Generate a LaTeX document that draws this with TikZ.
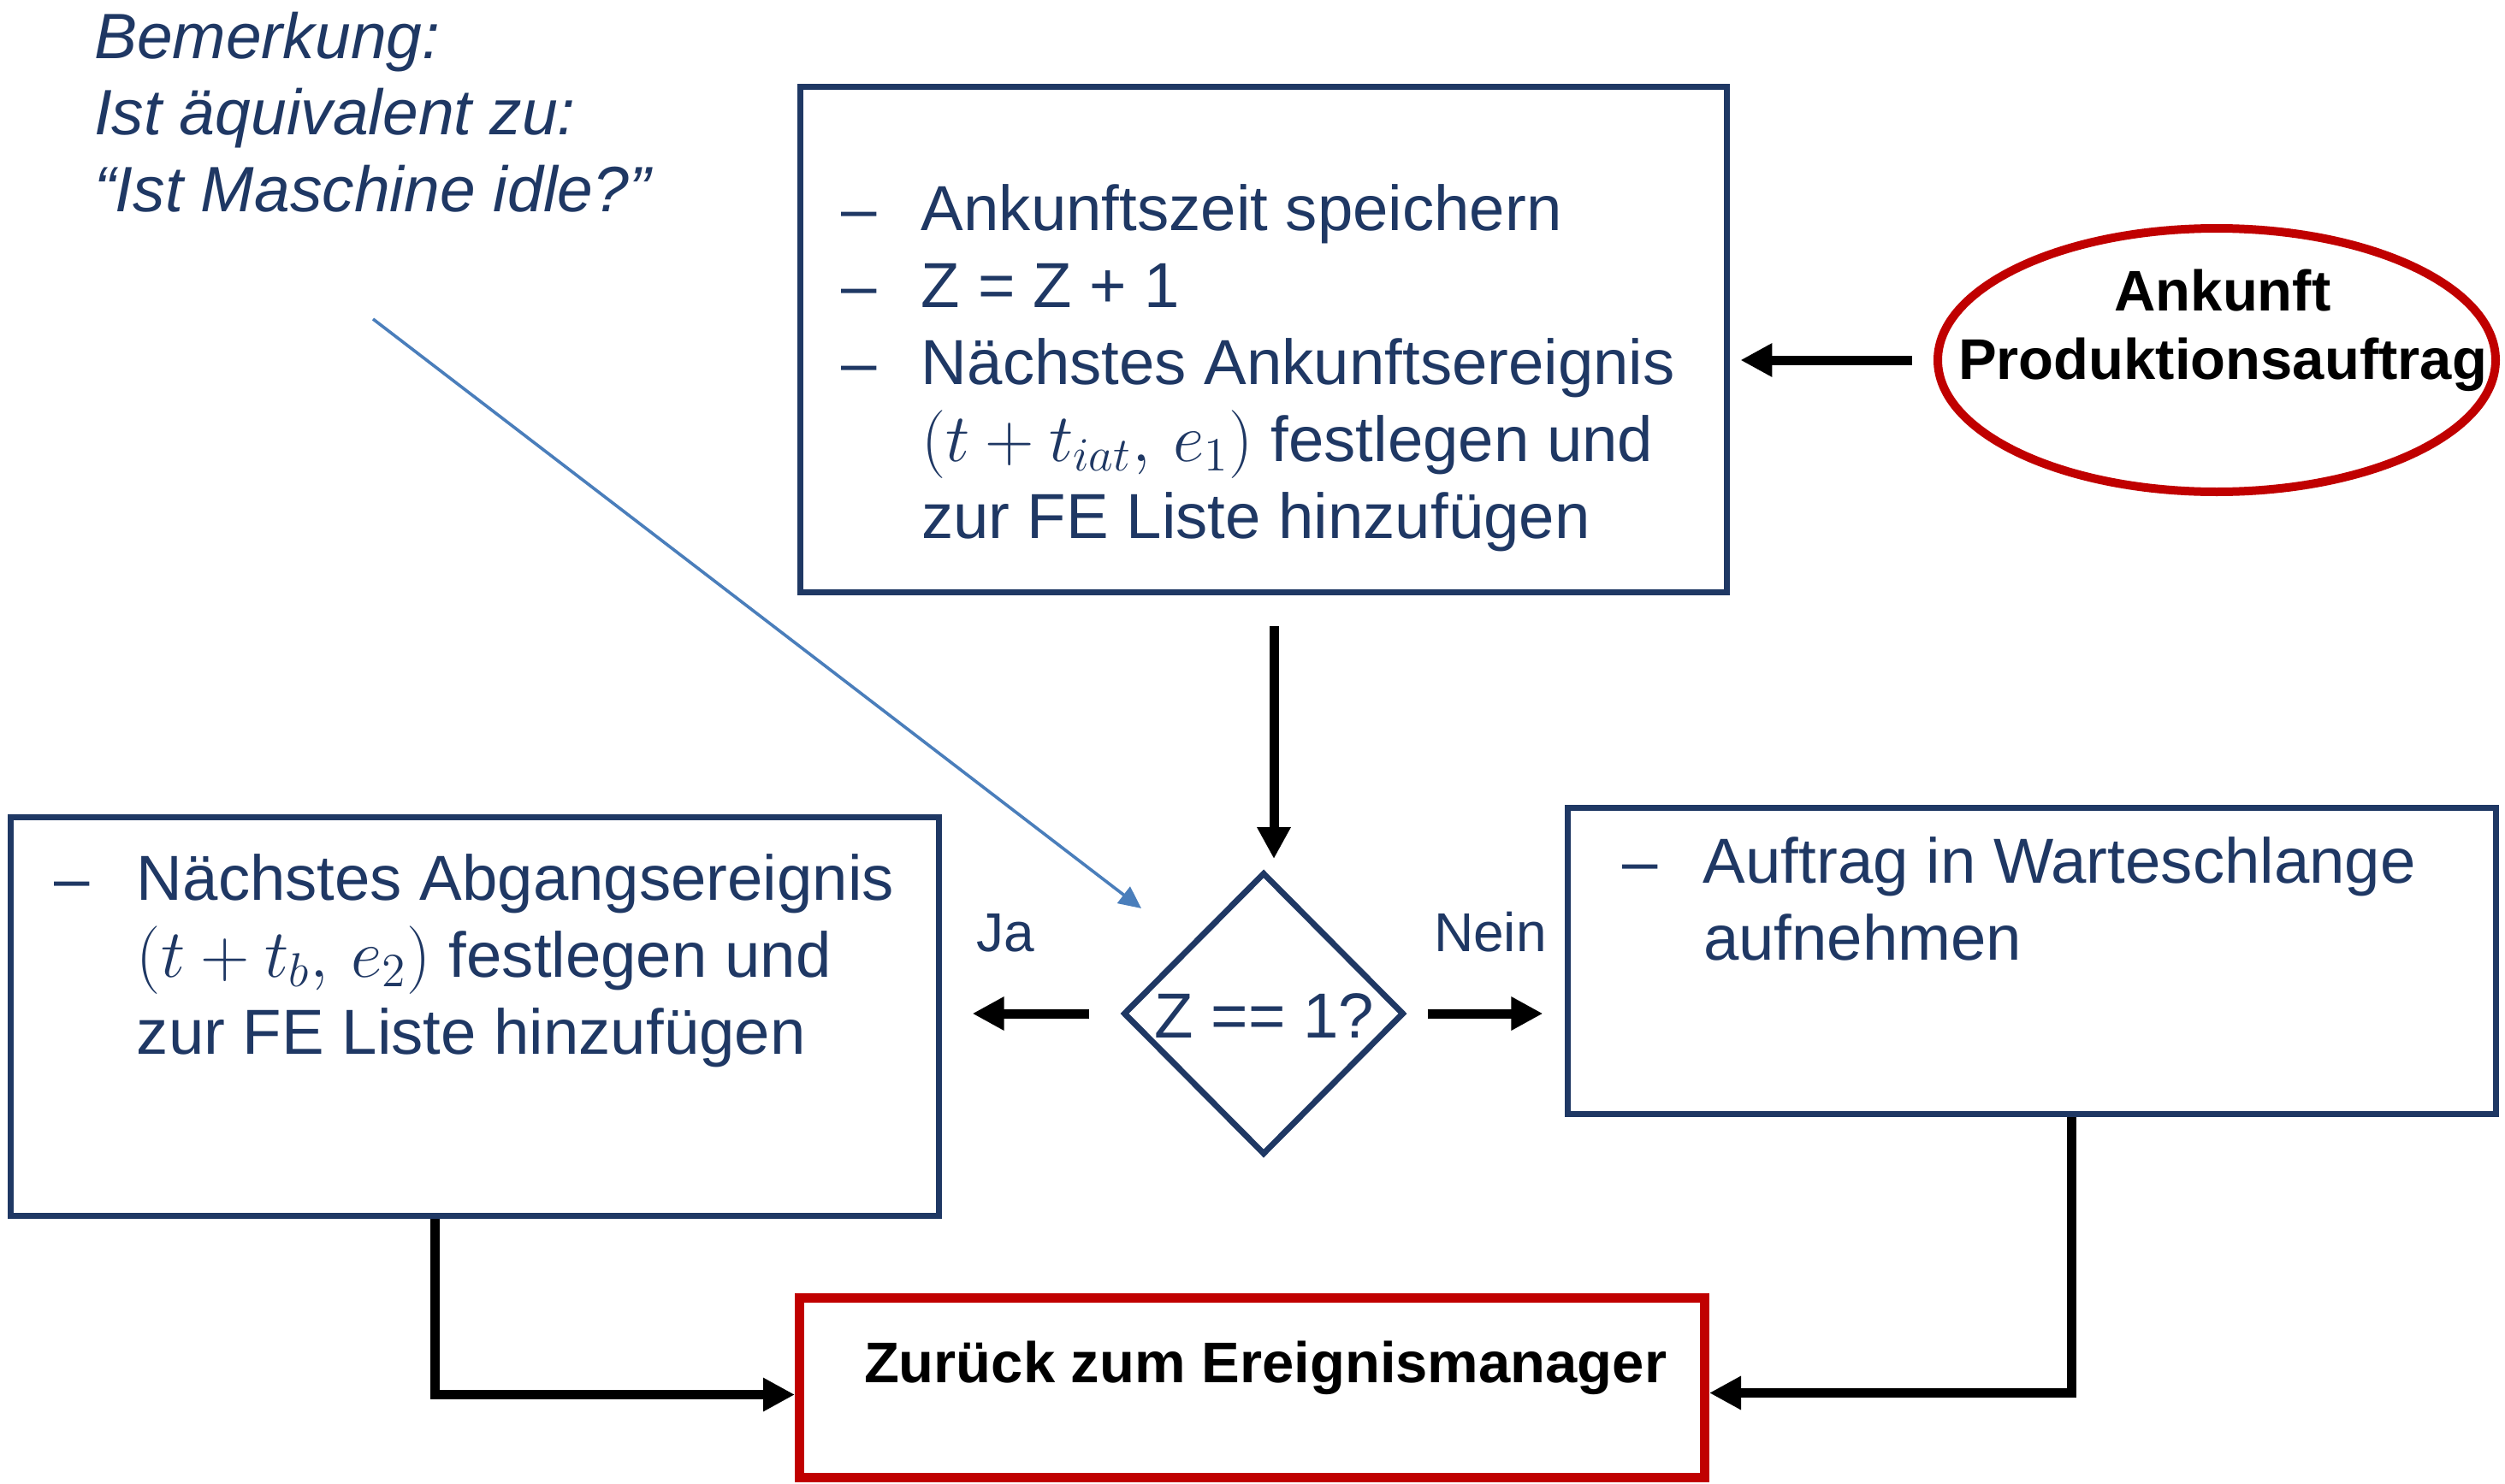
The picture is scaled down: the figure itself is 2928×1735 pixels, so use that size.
\RequirePackage{fix-cm}
\documentclass[tikz,border=0pt]{standalone}
\usepackage{fontspec}
\setmainfont{Liberation Sans}
\usetikzlibrary{shapes.geometric,arrows.meta}
\definecolor{dblue}{RGB}{31,56,100}
\definecolor{dred}{RGB}{192,0,0}
\definecolor{lblue}{RGB}{74,126,187}
\newcommand{\bodyfont}{\fontsize{18.6pt}{22.5pt}\selectfont}
\newcommand{\boldfont}{\fontsize{16.75pt}{20pt}\selectfont\bfseries}
\newcommand{\mymath}[1]{{\fontsize{19.9pt}{22.5pt}\selectfont$#1$}}
\tikzset{
  bluebox/.style={draw=dblue, line width=1.75pt, rectangle, inner sep=0pt},
  redbox/.style={draw=dred, line width=2.75pt, rectangle, inner sep=0pt},
  txt/.style={inner sep=0pt, outer sep=0pt, anchor=base west, text=dblue, font=\bodyfont},
  flow/.style={draw=black, line width=2.75pt, -{Triangle[length=9.25pt,width=9.25pt]}},
  note/.style={draw=lblue, line width=0.9pt, -{Triangle[length=6.5pt,width=6pt]}},
}
\begin{document}
\begin{tikzpicture}[x=0.25pt,y=-0.25pt]
\useasboundingbox (0,0) rectangle (2928,1735);
\fill[white] (0,0) rectangle (2928,1735);

% boxes
\node[bluebox, minimum width=270.75pt, minimum height=147.75pt] (top) at (1477,397) {};
\node[bluebox, minimum width=271.25pt, minimum height=116.5pt] (lbox) at (555,1188.5) {};
\node[bluebox, minimum width=271.25pt, minimum height=89.5pt] (rbox) at (2375,1123.5) {};
\node[redbox, minimum width=264.5pt, minimum height=52.5pt] (ret) at (1463.5,1622.5) {};
\node[draw=dred, line width=2.5pt, ellipse, inner sep=0pt, minimum width=163pt, minimum height=77pt] (ell) at (2591,421) {};
\node[draw=dblue, line width=1.75pt, diamond, inner sep=0pt, minimum width=82pt, minimum height=82.5pt] (dia) at (1477,1185) {};

% texts
\node[txt] (toptext) at (983,269) {\begin{tabular}[t]{@{}p{23.5pt}@{}l@{}}
–& Ankunftszeit speichern\\
–& Z = Z + 1\\
–& Nächstes Ankunftsereignis\\
& \mymath{(t+t_{iat},\,e_1)} festlegen und\\
& zur FE Liste hinzufügen
\end{tabular}};
\node[txt] (ltext) at (64,1052) {\begin{tabular}[t]{@{}p{24pt}@{}l@{}}
–& Nächstes Abgangsereignis\\
& \mymath{(t+t_{b},\,e_2)} festlegen und\\
& zur FE Liste hinzufügen
\end{tabular}};
\node[txt] (rtext) at (1896,1032) {\begin{tabular}[t]{@{}p{23.75pt}@{}l@{}}
–& Auftrag in Warteschlange\\
& aufnehmen
\end{tabular}};
\node[txt, anchor=base] (dtext) at (1478,1213) {Z == 1?};
\node[txt, font=\fontsize{16pt}{19pt}\selectfont] (ja) at (1141,1112) {Ja};
\node[txt, font=\fontsize{16pt}{19pt}\selectfont] (nein) at (1676,1112) {Nein};
\node[txt, anchor=base, text=black, font=\boldfont] (elltext) at (2598,363) {\begin{tabular}[t]{@{}c@{}}
Ankunft\\
Produktionsauftrag
\end{tabular}};
\node[txt, text=black, font=\boldfont] (rettext) at (1010,1616) {Zurück zum Ereignismanager};
\node[txt, font=\fontsize{18.75pt}{22.4pt}\selectfont\itshape] (comment) at (110,68) {\begin{tabular}[t]{@{}l@{}}
Bemerkung:\\
Ist äquivalent zu:\\
“Ist Maschine idle?”
\end{tabular}};

% connectors
\draw[flow, shorten <=6.25pt, shorten >=3.1pt] (ell.west) -- (ell.west -| top.east);
\draw[flow, shorten <=8.9pt, shorten >=3.1pt] ([xshift=3pt]top.south) -- ([xshift=3pt]dia.north);
\draw[flow, shorten <=9.1pt, shorten >=8.9pt] (dia.west) -- (dia.west -| lbox.east);
\draw[flow, shorten <=6.1pt, shorten >=6.4pt] (dia.east) -- (dia.east -| rbox.west);
\draw[flow] ([xshift=-11.75pt]lbox.south) |- ([yshift=-2pt]ret.west);
\draw[flow] ([xshift=11.5pt]rbox.south) |- ([yshift=-1.5pt]ret.east);
\coordinate (ns) at (436,373);
\coordinate (ne) at (1334,1062);
\draw[note] (ns) -- (ne);
\end{tikzpicture}
\end{document}
